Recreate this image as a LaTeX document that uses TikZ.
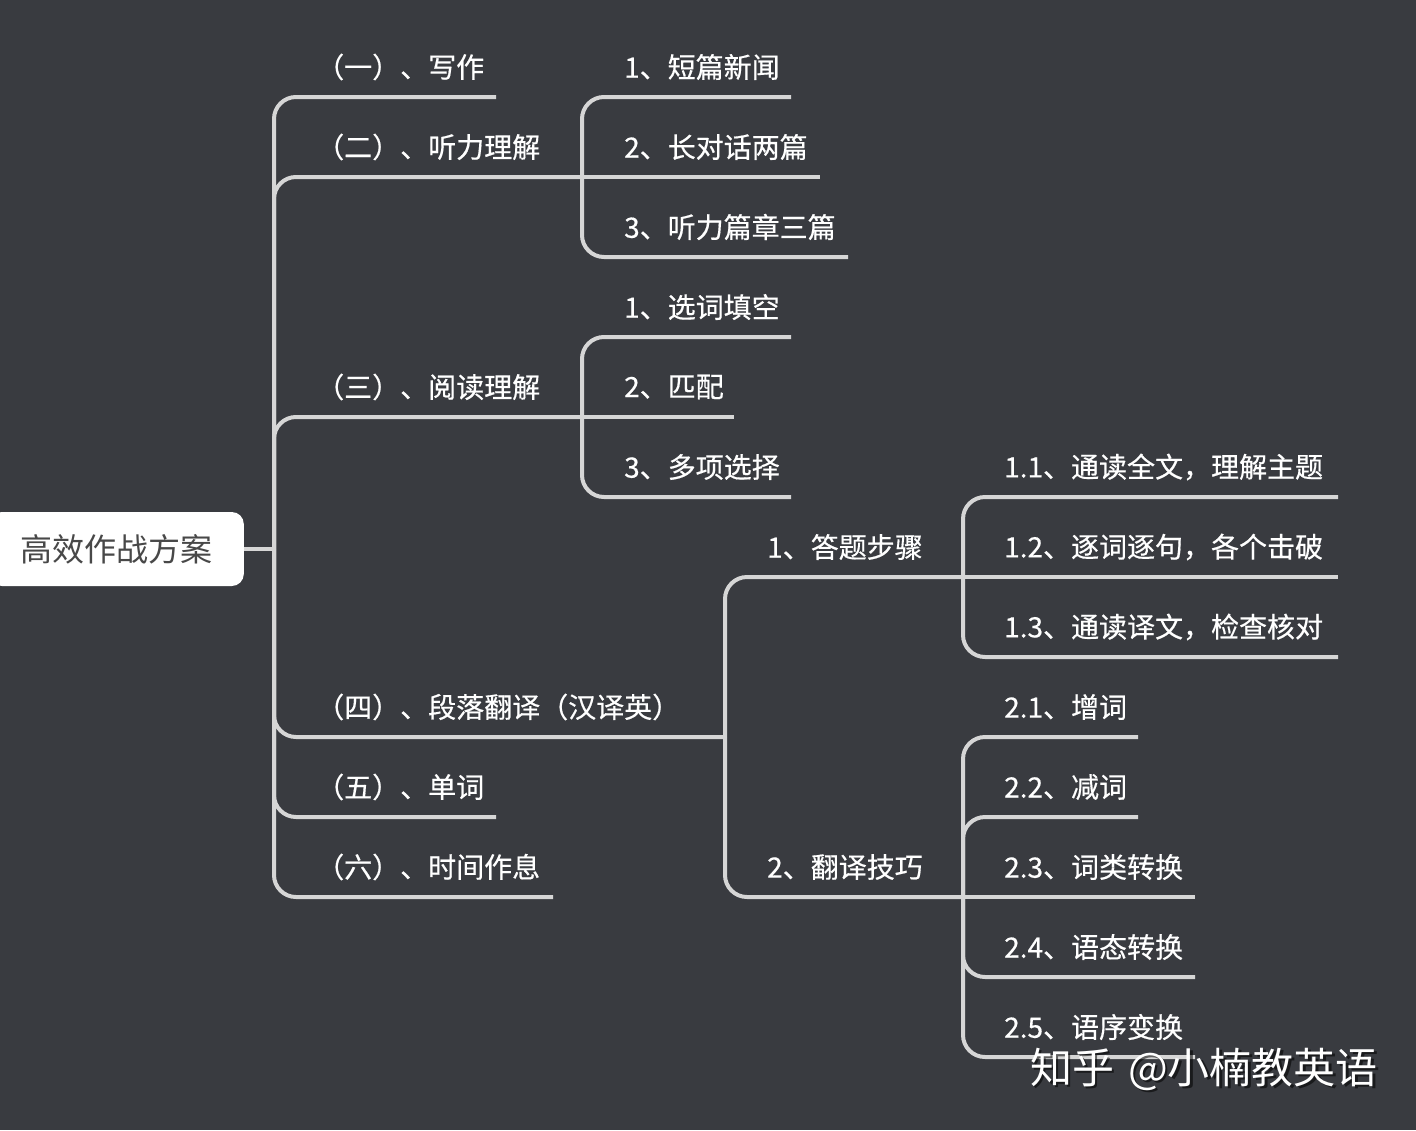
\documentclass[tikz,border=0pt]{standalone}
\usepackage{fontspec}
\setmainfont{Noto Sans CJK SC}
\newfontfamily\medfont{Noto Sans CJK SC}[FakeBold=0.5]
\definecolor{bgc}{RGB}{57,59,64}
\definecolor{linec}{RGB}{214,214,214}
\definecolor{roottxt}{RGB}{72,72,72}
\begin{document}
\begin{tikzpicture}[x=1pt,y=-1pt,
  link/.style={draw=linec,line width=4pt,rounded corners=22pt},
  lab/.style={anchor=west,text=white,font=\medfont\fontsize{28}{32}\selectfont,inner sep=0pt},
  rootbox/.style={fill=white,rounded corners=12pt,minimum height=74pt,minimum width=254pt,
    anchor=east,text=roottxt,font=\fontsize{32}{36}\selectfont,inner sep=0pt}]
\fill[bgc] (0,0) rectangle (1416,1130);
\useasboundingbox (0,0) rectangle (1416,1130);

% root
\node[rootbox] (root) at (244,549) {高效作战方案};
\coordinate (j0) at (274,549);

% level 1 ends
\coordinate (e1) at (496,97);
\coordinate (e2) at (582,177);
\coordinate (e3) at (582,417);
\coordinate (e4) at (725,737);
\coordinate (e5) at (496,817);
\coordinate (e6) at (553,897);

\node[lab] (l1) at (316,67) {（一）、写作};
\node[lab] (l2) at (316,147) {（二）、听力理解};
\node[lab] (l3) at (316,387) {（三）、阅读理解};
\node[lab] (l4) at (316,707) {（四）、段落翻译（汉译英）};
\node[lab] (l5) at (316,787) {（五）、单词};
\node[lab] (l6) at (316,867) {（六）、时间作息};

\draw[link] (root.east) -- (j0);
\foreach \e in {e1,e2,e3,e4,e5,e6} \draw[link] (j0) |- (\e);

% branch 2 children
\coordinate (e21) at (791,97);
\coordinate (e22) at (820,177);
\coordinate (e23) at (848,257);
\node[lab] (l21) at (624,67) {1、短篇新闻};
\node[lab] (l22) at (624,147) {2、长对话两篇};
\node[lab] (l23) at (624,227) {3、听力篇章三篇};
\draw[link] (e2) |- (e21);
\draw[link] (e2) -- (e22);
\draw[link] (e2) |- (e23);

% branch 3 children
\coordinate (e31) at (791,337);
\coordinate (e32) at (734,417);
\coordinate (e33) at (791,497);
\node[lab] (l31) at (624,307) {1、选词填空};
\node[lab] (l32) at (624,387) {2、匹配};
\node[lab] (l33) at (624,467) {3、多项选择};
\draw[link] (e3) |- (e31);
\draw[link] (e3) -- (e32);
\draw[link] (e3) |- (e33);

% branch 4 children
\coordinate (e41) at (963,577);
\coordinate (e42) at (963,897);
\node[lab] (l41) at (767,547) {1、答题步骤};
\node[lab] (l42) at (767,867) {2、翻译技巧};
\draw[link] (e4) |- (e41);
\draw[link] (e4) |- (e42);

% 4.1 children
\coordinate (e411) at (1338,497);
\coordinate (e412) at (1338,577);
\coordinate (e413) at (1338,657);
\node[lab] (l411) at (1004,467) {1.1、通读全文，理解主题};
\node[lab] (l412) at (1004,547) {1.2、逐词逐句，各个击破};
\node[lab] (l413) at (1004,627) {1.3、通读译文，检查核对};
\draw[link] (e41) |- (e411);
\draw[link] (e41) -- (e412);
\draw[link] (e41) |- (e413);

% 4.2 children
\coordinate (e421) at (1138,737);
\coordinate (e422) at (1138,817);
\coordinate (e423) at (1195,897);
\coordinate (e424) at (1195,977);
\coordinate (e425) at (1195,1057);
\node[lab] (l421) at (1004,707) {2.1、增词};
\node[lab] (l422) at (1004,787) {2.2、减词};
\node[lab] (l423) at (1004,867) {2.3、词类转换};
\node[lab] (l424) at (1004,947) {2.4、语态转换};
\node[lab] (l425) at (1004,1027) {2.5、语序变换};
\draw[link] (e42) |- (e421);
\draw[link] (e42) |- (e422);
\draw[link] (e42) -- (e423);
\draw[link] (e42) |- (e424);
\draw[link] (e42) |- (e425);

% watermark
\node[anchor=west,inner sep=0pt,text=black,opacity=0.55,font=\fontsize{42}{46}\selectfont] (wms) at (1032.5,1071.5) {知乎\hspace{14pt}@小楠教英语};
\node[anchor=west,inner sep=0pt,text=white,font=\fontsize{42}{46}\selectfont] (wm) at (1030,1069) {知乎\hspace{14pt}@小楠教英语};
\end{tikzpicture}
\end{document}
